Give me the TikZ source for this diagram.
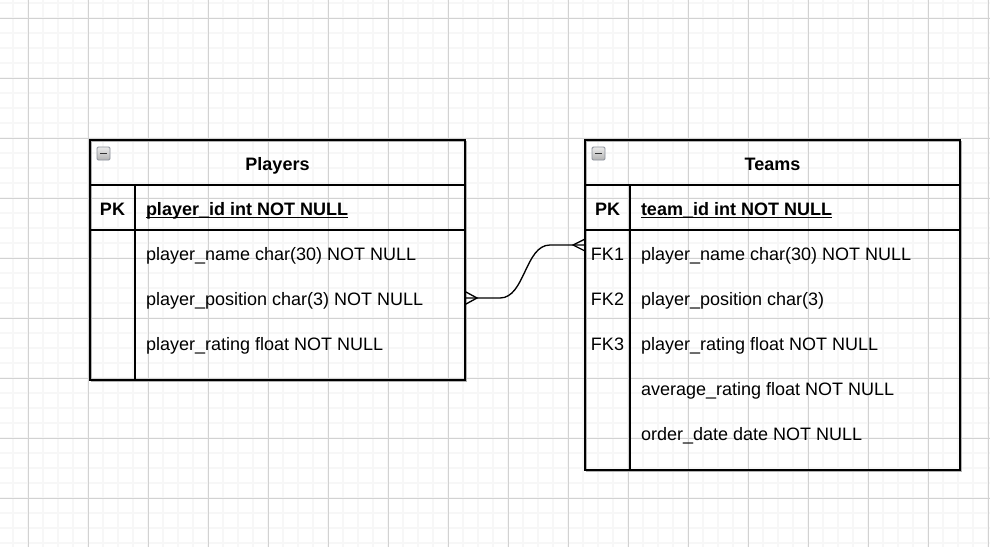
\documentclass[tikz,border=0pt]{standalone}
\usepackage{fontspec}
\setmainfont{Liberation Sans}
\definecolor{gridmajor}{RGB}{210,210,210}
\definecolor{gridminor}{RGB}{247,247,247}
\definecolor{iconedge}{RGB}{140,145,155}
\begin{document}
\begin{tikzpicture}[x=0.75pt,y=-0.75pt,
  every node/.style={inner sep=0pt, outer sep=0pt, font=\fontsize{13.5}{16}\selectfont},
  tbl/.style={draw=black, line width=1.1pt},
  tblshadow/.style={draw=black!30, line width=1pt},
  field/.style={anchor=base west},
  keycell/.style={anchor=base},
  keybold/.style={anchor=base, font=\fontsize{13.5}{16}\selectfont\bfseries},
  fieldbold/.style={anchor=base west, font=\fontsize{13.5}{16}\selectfont\bfseries},
  title/.style={anchor=base, font=\fontsize{13.5}{16}\selectfont\bfseries},
  rel/.style={draw=black, line width=1pt},
  icon/.style={draw=iconedge, line width=0.7pt, top color=black!8, bottom color=black!30, rounded corners=1pt, minimum width=9.75pt, minimum height=9.75pt},
  minusbar/.style={draw=black!80, line width=1.3pt}
]
\useasboundingbox (0,0) rectangle (990,547);
\fill[white] (0,0) rectangle (990,547);
% grid
\foreach \x in {13,28,...,988} \draw[gridminor,line width=1.2pt] (\x,0) -- (\x,547);
\foreach \y in {3,18,...,543} \draw[gridminor,line width=1.2pt] (0,\y) -- (990,\y);
\foreach \x in {28,88,...,988} \draw[gridmajor,line width=0.75pt] (\x,0) -- (\x,547);
\foreach \y in {18,78,...,498} \draw[gridmajor,line width=0.75pt] (0,\y) -- (990,\y);

% Players table
\draw[tblshadow] (91.5,141.5) rectangle (466.5,381.5);
\draw[tbl] (90,140) rectangle (465,380);
\draw[tbl] (90,185) -- (465,185);
\draw[tbl] (90,230) -- (465,230);
\draw[tbl] (135,185) -- (135,380);
\node[icon] (picon) at (103.5,153.5) {};
\draw[minusbar] ([xshift=-2.7pt]picon.center) -- ([xshift=2.7pt]picon.center);
\node[title] (ptitle) at (277.5,170.5) {Players};
\node[keybold] (ppk) at (112.5,215.5) {PK};
\node[fieldbold] (pid) at (146,215.5) {player\_id int NOT NULL};
\draw[line width=0.9pt] ([yshift=-1.6pt]pid.base west) -- ([yshift=-1.6pt]pid.base east);
\node[field] (pname) at (146,260.5) {player\_name char(30) NOT NULL};
\node[field] (ppos) at (146,305.5) {player\_position char(3) NOT NULL};
\node[field] (prat) at (146,350.5) {player\_rating float NOT NULL};

% Teams table
\draw[tblshadow] (586.5,141.5) rectangle (961.5,471.5);
\draw[tbl] (585,140) rectangle (960,470);
\draw[tbl] (585,185) -- (960,185);
\draw[tbl] (585,230) -- (960,230);
\draw[tbl] (630,185) -- (630,470);
\node[icon] (ticon) at (598.5,153.5) {};
\draw[minusbar] ([xshift=-2.7pt]ticon.center) -- ([xshift=2.7pt]ticon.center);
\node[title] (ttitle) at (772.5,170.5) {Teams};
\node[keybold] (tpk) at (607.5,215.5) {PK};
\node[fieldbold] (tid) at (641,215.5) {team\_id int NOT NULL};
\draw[line width=0.9pt] ([yshift=-1.6pt]tid.base west) -- ([yshift=-1.6pt]tid.base east);
\node[keycell] (fk1) at (607.5,260.5) {FK1};
\node[keycell] (fk2) at (607.5,305.5) {FK2};
\node[keycell] (fk3) at (607.5,350.5) {FK3};
\node[field] (tname) at (641,260.5) {player\_name char(30) NOT NULL};
\node[field] (tpos) at (641,305.5) {player\_position char(3)};
\node[field] (trat) at (641,350.5) {player\_rating float NOT NULL};
\node[field] (tavg) at (641,395.5) {average\_rating float NOT NULL};
\node[field] (tdate) at (641,440.5) {order\_date date NOT NULL};

% relationship
\coordinate (pend) at (465,298);
\coordinate (pbend) at (500,298);
\coordinate (tbend) at (550,245);
\coordinate (tend) at (585,245);
\draw[rel] (pend) -- (pbend) .. controls (525,298) and (525,245) .. (tbend) -- (tend);
\draw[rel] ([yshift=4.9pt]pend) -- ([xshift=9pt]pend) -- ([yshift=-4.9pt]pend);
\draw[rel] ([yshift=4.5pt]tend) -- ([xshift=-9pt]tend) -- ([yshift=-4.5pt]tend);
\end{tikzpicture}
\end{document}
